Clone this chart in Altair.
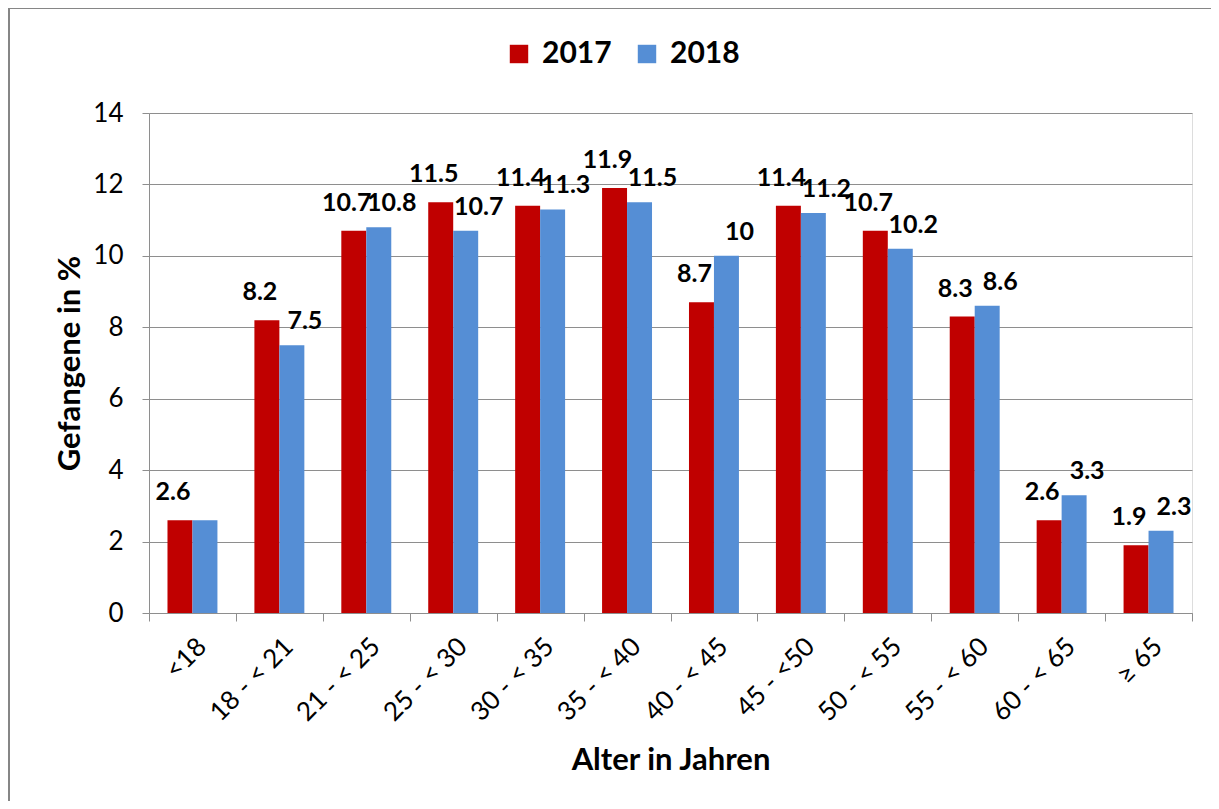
import altair as alt
import pandas as pd

categories = ["<18", "18 - < 21", "21 - < 25", "25 - < 30", "30 - < 35", "35 - < 40",
              "40 - < 45", "45 - <50", "50 - < 55", "55 - < 60", "60 - < 65", "≥ 65"]
values_2017 = [2.6, 8.2, 10.7, 11.5, 11.4, 11.9, 8.7, 11.4, 10.7, 8.3, 2.6, 1.9]
values_2018 = [2.6, 7.5, 10.8, 10.7, 11.3, 11.5, 10, 11.2, 10.2, 8.6, 3.3, 2.3]
labels_2017 = ["2.6", "8.2", "10.7", "11.5", "11.4", "11.9", "8.7", "11.4", "10.7", "8.3", "2.6", "1.9"]
labels_2018 = ["", "7.5", "10.8", "10.7", "11.3", "11.5", "10", "11.2", "10.2", "8.6", "3.3", "2.3"]
years = ["2017", "2018"]
colors = ["#C00000", "#558ED5"]

rows = []
for c, v, l in zip(categories, values_2017, labels_2017):
    rows.append({"Alter": c, "Jahr": "2017", "Wert": v, "Label": l})
for c, v, l in zip(categories, values_2018, labels_2018):
    rows.append({"Alter": c, "Jahr": "2018", "Wert": v, "Label": l})
df = pd.DataFrame(rows)

FONT = "Lato"
GRID = "#8E8E8E"

x_enc = alt.X("Alter:N", sort=categories,
              scale=alt.Scale(paddingInner=0, paddingOuter=0),
              axis=alt.Axis(title="Alter in Jahren", labelAngle=-45, tickBand="extent",
                            labelFontSize=26, labelFont=FONT, labelColor="#000000",
                            labelPadding=12, titleFontSize=31, titleFont=FONT,
                            titleFontWeight="bold", titleColor="#000000", titlePadding=20,
                            domainColor=GRID, tickColor=GRID, tickSize=8, grid=False))
y_enc = alt.Y("Wert:Q", scale=alt.Scale(domain=[0, 14], nice=False),
              axis=alt.Axis(title="Gefangene in %", values=[0, 2, 4, 6, 8, 10, 12, 14],
                            labelFontSize=26, labelFont=FONT, labelColor="#000000",
                            labelPadding=19, titleFontSize=31, titleFont=FONT,
                            titleFontWeight="bold", titleColor="#000000", titlePadding=6,
                            domainColor=GRID, tickColor=GRID, tickSize=7,
                            grid=True, gridColor=GRID, gridWidth=1))
xoff = alt.XOffset("Jahr:N", sort=years, scale=alt.Scale(paddingOuter=0.74, paddingInner=0))

bars = alt.Chart(df).mark_bar().encode(
    x=x_enc, y=y_enc, xOffset=xoff,
    color=alt.Color("Jahr:N", sort=years,
                    scale=alt.Scale(domain=years, range=colors),
                    legend=alt.Legend(title=None, orient="none", direction="horizontal",
                                      legendX=355, legendY=-74, symbolType="square",
                                      symbolSize=340, symbolStrokeWidth=0,
                                      labelFontSize=30, labelFont=FONT, labelFontWeight="bold",
                                      labelColor="#000000", columnPadding=20, labelOffset=8))
)

def label_layer(year, dx, dy):
    return alt.Chart(df).transform_filter(alt.datum.Jahr == year).mark_text(
        font=FONT, fontSize=25, fontWeight="bold", color="#000000",
        baseline="alphabetic", dy=dy, dx=dx).encode(
        x=alt.X("Alter:N", sort=categories), y="Wert:Q", xOffset=xoff, text="Label:N")

text17 = label_layer("2017", -7, -20)
text18 = label_layer("2018", 13, -16)

frame_df = pd.DataFrame({"k": [1]})
frame = alt.Chart(frame_df).mark_rect(fill="transparent", stroke="#868686", strokeWidth=2).encode(
    x=alt.value(-140), x2=alt.value(1300), y=alt.value(-105), y2=alt.value(900))

chart = alt.layer(bars, text17, text18, frame).properties(
    width=1043, height=500,
    autosize=alt.AutoSizeParams(type="none"),
    padding={"left": 141, "top": 105, "right": 19, "bottom": 188},
).configure_view(stroke=None).configure(background="white")

chart.save("out.html", embed_options={"renderer": "svg", "actions": False})
